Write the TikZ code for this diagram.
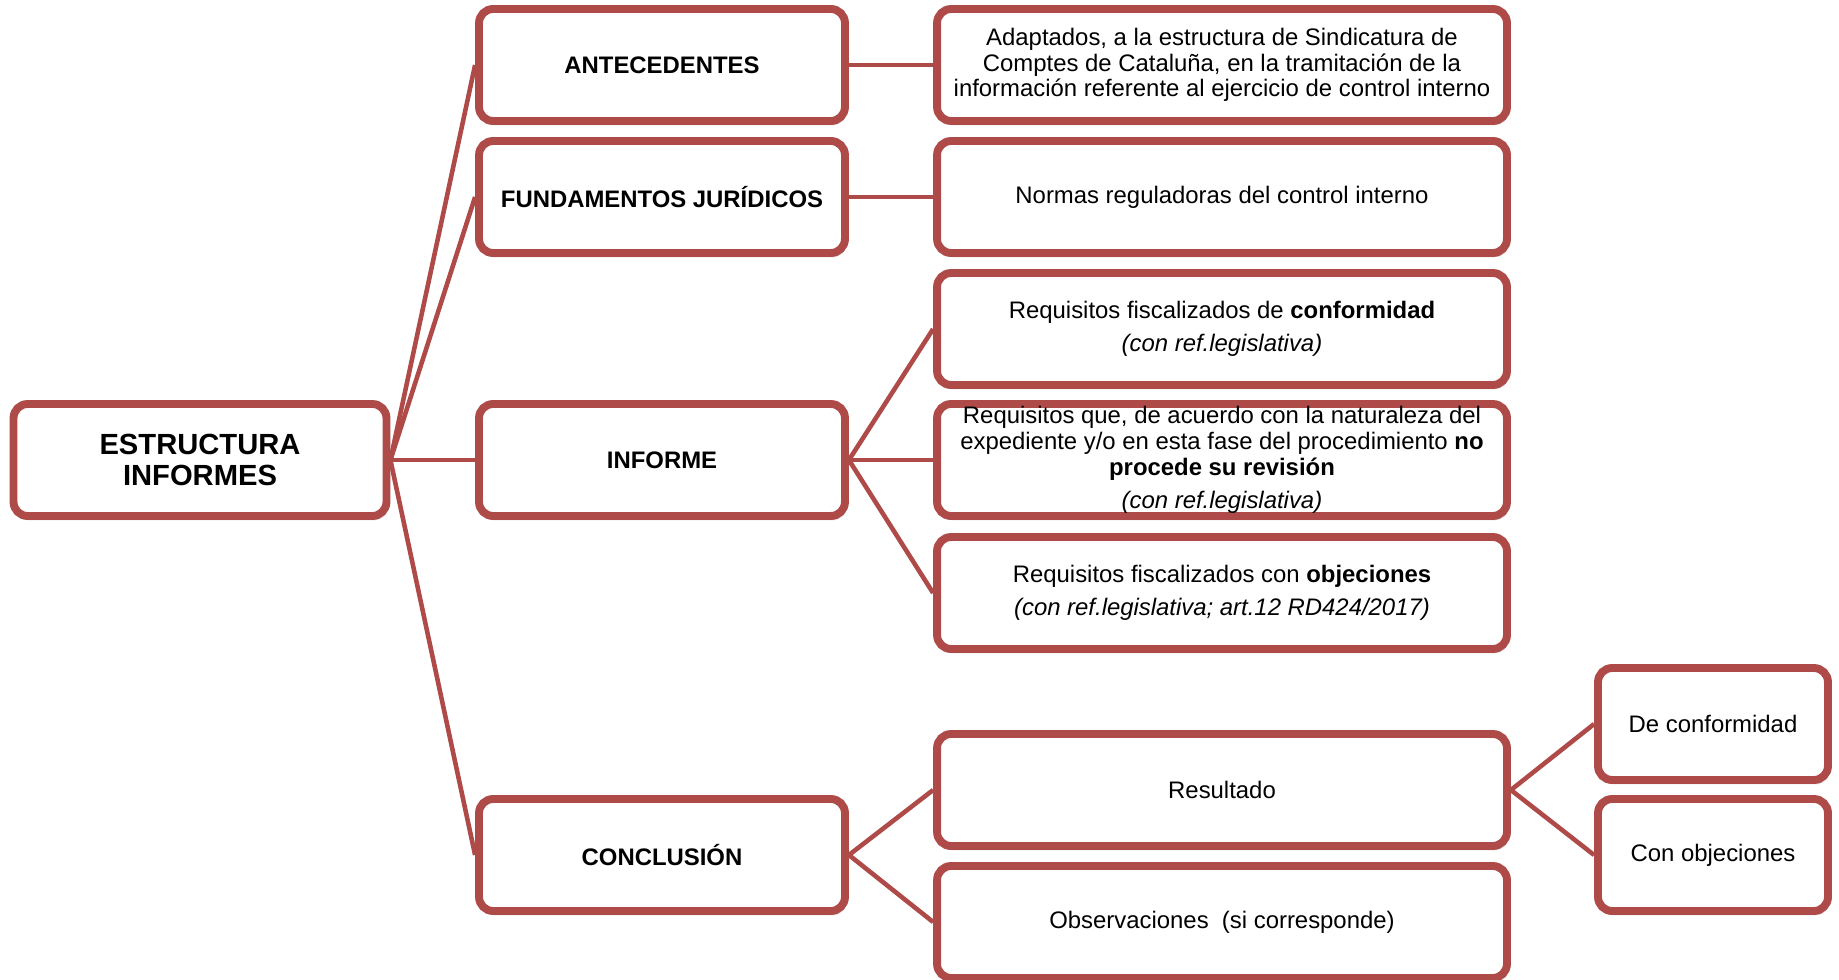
\documentclass[tikz,border=0pt]{standalone}
\usepackage{fontspec}
\setmainfont{Liberation Sans}
\usetikzlibrary{shadows}
\definecolor{boxred}{RGB}{174,74,71}

\begin{document}
\begin{tikzpicture}[x=0.02cm,y=-0.02cm,
		box/.style={rectangle,draw=boxred,line width=4.5pt,rounded corners=8pt,fill=white,
			align=center,inner ysep=0pt,minimum height=2.24cm,font=\fontsize{13.6}{14.6}\selectfont,
			drop shadow={opacity=0.25,shadow xshift=1pt,shadow yshift=-2.5pt}},
		root node/.style={box,minimum width=7.46cm,font=\fontsize{16.6}{17.2}\selectfont\bfseries},
		main node/.style={box,minimum width=7.32cm,font=\fontsize{13.6}{14.6}\selectfont\bfseries},
		sub node/.style={box,minimum width=11.4cm},
		leaf node/.style={box,minimum width=4.6cm}]
		
		\useasboundingbox (0,0) rectangle (1839,980);
		
		\node[root node] (est) at (200,460) {ESTRUCTURA\\INFORMES};
		
		\node[main node] (ant) at (662,65) {ANTECEDENTES};
		\node[main node] (fun) at (662,197) {FUNDAMENTOS JURÍDICOS};
		\node[main node] (inf) at (662,460) {INFORME};
		\node[main node] (con) at (662,855) {CONCLUSIÓN};
		
		\node[sub node] (adap) at (1222,65) {Adaptados, a la estructura de Sindicatura de\\Comptes de Cataluña, en la tramitación de la\\información referente al ejercicio de control interno};
		\node[sub node] (norm) at (1222,197) {Normas reguladoras del control interno};
		\node[sub node] (conf) at (1222,329) {Requisitos fiscalizados de \textbf{conformidad}\\[4.5pt]\textit{(con ref.legislativa)}};
		\node[sub node] (nopr) at (1222,460) {Requisitos que, de acuerdo con la naturaleza del\\expediente y/o en esta fase del procedimiento \textbf{no}\\\textbf{procede su revisión}\\[4.5pt]\textit{(con ref.legislativa)}};
		\node[sub node] (obj) at (1222,593) {Requisitos fiscalizados con \textbf{objeciones}\\[4.5pt]\textit{(con ref.legislativa; art.12 RD424/2017)}};
		\node[sub node] (res) at (1222,790) {Resultado};
		\node[sub node] (obs) at (1222,922) {Observaciones~ (si corresponde)};
		
		\node[leaf node] (deconf) at (1713,724) {De conformidad};
		\node[leaf node] (conobj) at (1713,855) {Con objeciones};
		
		\path[boxred,line width=2.6pt]
		(est.east) edge (ant.west)
		(est.east) edge (fun.west)
		(est.east) edge (inf.west)
		(est.east) edge (con.west)
		(ant.east) edge (adap.west)
		(fun.east) edge (norm.west)
		(inf.east) edge (conf.west)
		(inf.east) edge (nopr.west)
		(inf.east) edge (obj.west)
		(con.east) edge (res.west)
		(con.east) edge (obs.west)
		(res.east) edge (deconf.west)
		(res.east) edge (conobj.west);
\end{tikzpicture}
\end{document}
